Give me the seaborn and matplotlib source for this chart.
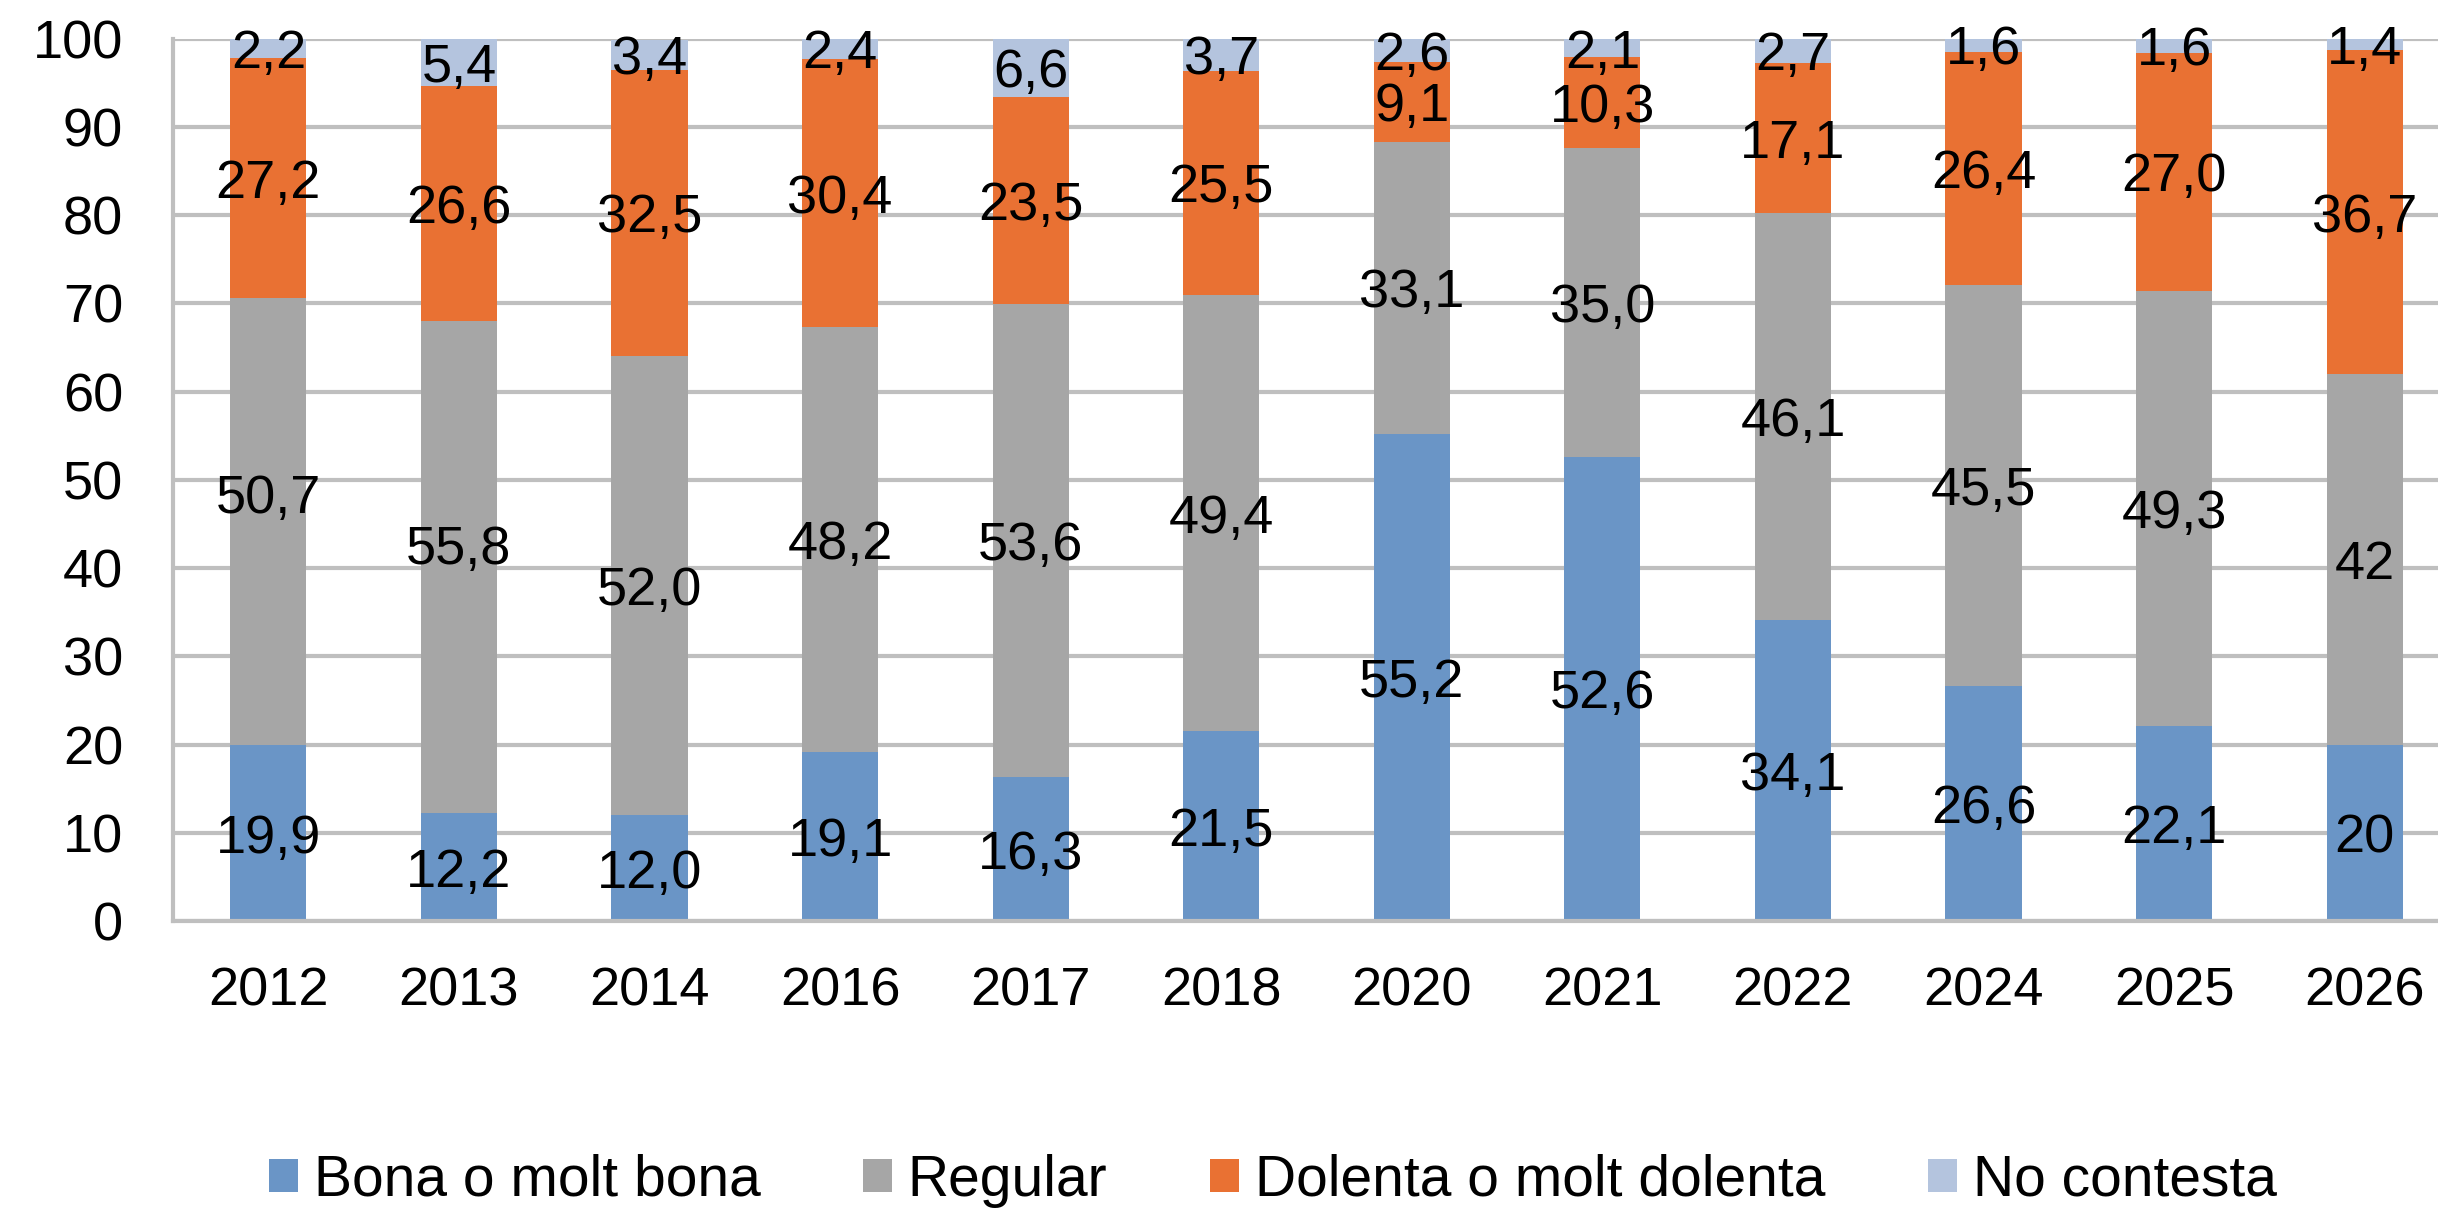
import numpy as np
import pandas as pd
import matplotlib
matplotlib.use('Agg')
import matplotlib.pyplot as plt
from matplotlib.patches import Patch
import seaborn as sns

sns.set_style('white')
plt.rcParams['font.family'] = ['Liberation Sans', 'DejaVu Sans']

#%% DATA
years = ['2012', '2013', '2014', '2016', '2017', '2018', '2020', '2021', '2022', '2024', '2025', '2026']
bona = [19.9, 12.2, 12.0, 19.1, 16.3, 21.5, 55.2, 52.6, 34.1, 26.6, 22.1, 20]
regular = [50.7, 55.8, 52.0, 48.2, 53.6, 49.4, 33.1, 35.0, 46.1, 45.5, 49.3, 42]
dolenta = [27.2, 26.6, 32.5, 30.4, 23.5, 25.5, 9.1, 10.3, 17.1, 26.4, 27.0, 36.7]
no_contesta = [2.2, 5.4, 3.4, 2.4, 6.6, 3.7, 2.6, 2.1, 2.7, 1.6, 1.6, 1.4]

series_names = ['Bona o molt bona', 'Regular', 'Dolenta o molt dolenta', 'No contesta']
series_vals = [bona, regular, dolenta, no_contesta]
colors = ['#6A95C6', '#A6A6A6', '#E97133', '#B4C4DE']

# a couple of labels were moved up by hand in the original (series, year index)
label_nudge = {(1, 0): 3.2, (1, 1): 2.6}

grid_col = '#BFBFBF'
fs = 39
leg_fs = 41


def fmt(v):
    # ints are shown without decimals, floats with one decimal and a comma
    if isinstance(v, int):
        return str(v)
    return '{:.1f}'.format(v).replace('.', ',')


#%% PLOT
fig = plt.figure(figsize=(24.38, 12.11), dpi=100)
ax = fig.add_axes([0.071, 0.2395, 0.938, 0.7285])

cum = np.cumsum(np.array(series_vals, dtype=float), axis=0)
# draw cumulative totals from the top layer down so the segments stack
for i in range(len(series_vals) - 1, -1, -1):
    df = pd.DataFrame({'year': years, 'total': cum[i]})
    sns.barplot(data=df, x='year', y='total', color=colors[i], width=0.4,
                saturation=1, linewidth=0, edgecolor='none', ax=ax, zorder=2)

for i, vals in enumerate(series_vals):
    bottoms = cum[i] - np.array(vals, dtype=float)
    for j, v in enumerate(vals):
        y = bottoms[j] + v / 2.0 + label_nudge.get((i, j), 0)
        ax.text(j, y, fmt(v), ha='center', va='center_baseline',
                fontsize=fs, color='black', zorder=5)

ax.set_ylim(0, 100)
ax.set_xlim(-0.5, len(years) - 0.5)
ax.set_yticks(np.arange(0, 101, 10))
ax.yaxis.grid(True, color=grid_col, linewidth=3)
ax.set_axisbelow(True)
ax.set_xlabel('')
ax.set_ylabel('')
ax.tick_params(axis='y', length=0, pad=36, labelsize=fs, labelcolor='black')
ax.tick_params(axis='x', length=0, pad=33, labelsize=fs, labelcolor='black')
for s in ['top', 'right']:
    ax.spines[s].set_visible(False)
for s in ['left', 'bottom']:
    ax.spines[s].set_color(grid_col)
    ax.spines[s].set_linewidth(3)

handles = [Patch(facecolor=c, edgecolor='none') for c in colors]
fig.legend(handles, series_names, loc='center', bbox_to_anchor=(0.522, 0.025),
           ncol=4, frameon=False, fontsize=leg_fs, handlelength=0.51, handleheight=0.51,
           handletextpad=0.28, columnspacing=1.8, labelcolor='black')

fig.savefig('out.png', dpi=100)
